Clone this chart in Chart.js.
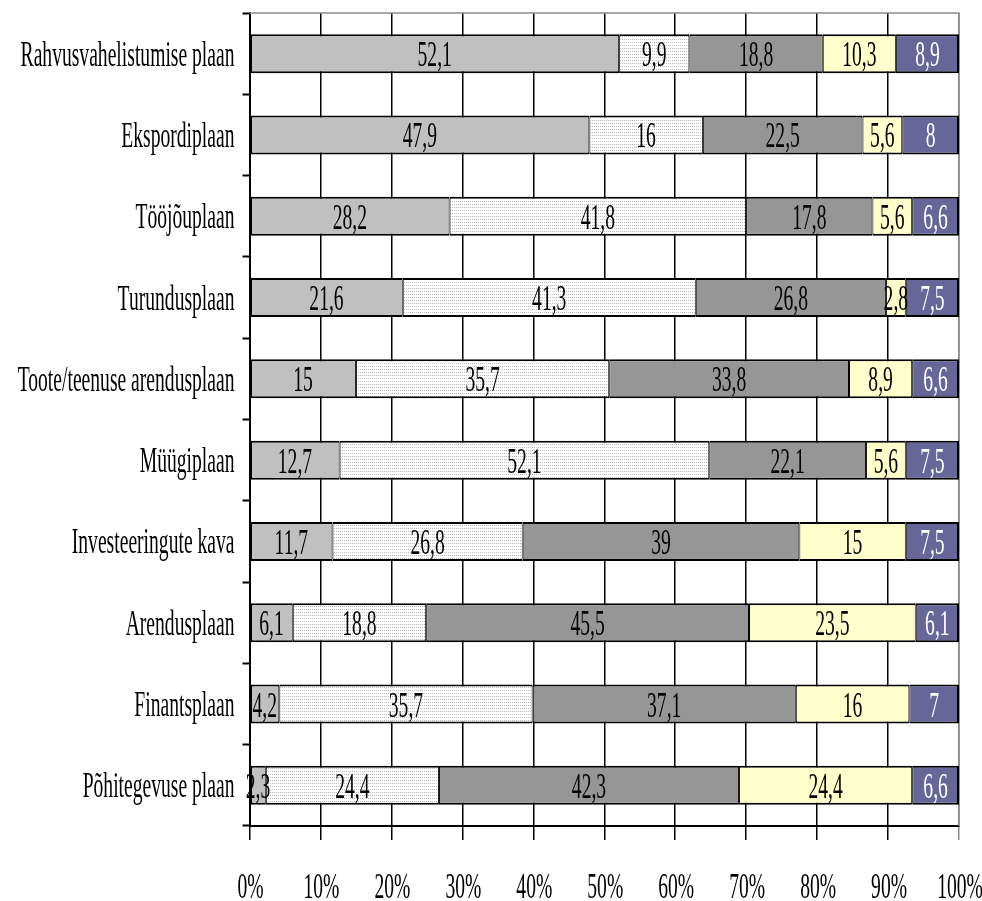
<!DOCTYPE html>
<html>
<head>
<meta charset="utf-8">
<script src="https://cdn.jsdelivr.net/npm/chart.js@4/dist/chart.umd.min.js"></script>
<style>
  html, body { margin: 0; padding: 0; background: #fff; }
  canvas { display: block; }
</style>
</head>
<body>
<canvas id="chart" width="982" height="901"></canvas>
<script>
// Plan types, top to bottom
const categories = [
  'Rahvusvahelistumise plaan',
  'Ekspordiplaan',
  'Tööjõuplaan',
  'Turundusplaan',
  'Toote/teenuse arendusplaan',
  'Müügiplaan',
  'Investeeringute kava',
  'Arendusplaan',
  'Finantsplaan',
  'Põhitegevuse plaan'
];

// Shares (%) of the five answer groups for each plan
const series1 = [52.1, 47.9, 28.2, 21.6, 15, 12.7, 11.7, 6.1, 4.2, 2.3];
const series2 = [9.9, 16, 41.8, 41.3, 35.7, 52.1, 26.8, 18.8, 35.7, 24.4];
const series3 = [18.8, 22.5, 17.8, 26.8, 33.8, 22.1, 39, 45.5, 37.1, 42.3];
const series4 = [10.3, 5.6, 5.6, 2.8, 8.9, 5.6, 15, 23.5, 16, 24.4];
const series5 = [8.9, 8, 6.6, 7.5, 6.6, 7.5, 7.5, 6.1, 7, 6.6];

const xTickValues = [0, 10, 20, 30, 40, 50, 60, 70, 80, 90, 100];
const xTickLabels = ['0%', '10%', '20%', '30%', '40%', '50%', '60%', '70%', '80%', '90%', '100%'];

// Narrow serif lettering: Times-like face squeezed horizontally
const FONT = '35px "Liberation Serif", "Times New Roman", serif';
const SQUEEZE = 0.56;

function dottedFill() {
  const c = document.createElement('canvas');
  c.width = 2; c.height = 3;
  const g = c.getContext('2d');
  g.fillStyle = '#ffffff';
  g.fillRect(0, 0, 2, 3);
  g.fillStyle = '#bdbdbd';
  g.fillRect(0, 0, 1, 1);
  return g.createPattern(c, 'repeat');
}

function narrowText(ctx, text, x, y, align) {
  ctx.save();
  ctx.translate(x, y);
  ctx.scale(SQUEEZE, 1);
  ctx.textAlign = align;
  ctx.textBaseline = 'alphabetic';
  ctx.fillText(text, 0, 0);
  ctx.restore();
}

const fmt = v => String(v).replace('.', ',');

const textPlugin = {
  id: 'narrowLabels',
  beforeDatasetsDraw(chart) {
    // grey frame on the top and right of the plot area
    const { ctx, chartArea: a } = chart;
    ctx.save();
    ctx.strokeStyle = '#8c8c8c';
    ctx.lineWidth = 1.5;
    ctx.beginPath();
    ctx.moveTo(a.left, a.top);
    ctx.lineTo(a.right, a.top);
    ctx.lineTo(a.right, a.bottom);
    ctx.stroke();
    ctx.restore();
  },
  afterDatasetsDraw(chart) {
    const ctx = chart.ctx;
    ctx.save();
    ctx.font = FONT;
    chart.data.datasets.forEach((ds, di) => {
      const meta = chart.getDatasetMeta(di);
      meta.data.forEach((bar, i) => {
        const p = bar.getCenterPoint();
        ctx.fillStyle = ds.labelColor;
        narrowText(ctx, fmt(ds.data[i]), p.x, p.y + 12.5, 'center');
      });
    });
    ctx.restore();
  },
  afterDraw(chart) {
    const ctx = chart.ctx;
    const xs = chart.scales.x, ys = chart.scales.y;
    ctx.save();
    ctx.font = FONT;
    ctx.fillStyle = '#000';
    categories.forEach((c, i) => {
      narrowText(ctx, c, xs.left - 15, ys.getPixelForValue(i) + 12, 'right');
    });
    xTickValues.forEach((v, i) => {
      narrowText(ctx, xTickLabels[i], xs.getPixelForValue(v) + 1, 898, 'center');
    });
    ctx.restore();
  }
};

const dots = dottedFill();
const lastSet = 4;
const edges = di => ({ top: 2, bottom: 2, left: di === 0 ? 2 : 1, right: di === lastSet ? 2 : 1 });
const common = di => ({ borderColor: '#000', borderWidth: edges(di), borderSkipped: false, barPercentage: 0.48, categoryPercentage: 1 });

new Chart(document.getElementById('chart'), {
  type: 'bar',
  data: {
    labels: categories,
    datasets: [
      Object.assign({ label: '1', data: series1, backgroundColor: '#c0c0c0', labelColor: '#000' }, common(0)),
      Object.assign({ label: '2', data: series2, backgroundColor: dots, labelColor: '#000' }, common(1)),
      Object.assign({ label: '3', data: series3, backgroundColor: '#969696', labelColor: '#000' }, common(2)),
      Object.assign({ label: '4', data: series4, backgroundColor: '#ffffcc', labelColor: '#000' }, common(3)),
      Object.assign({ label: '5', data: series5, backgroundColor: '#666699', labelColor: '#fff' }, common(4))
    ]
  },
  options: {
    indexAxis: 'y',
    responsive: false,
    animation: false,
    devicePixelRatio: 1,
    layout: { padding: { left: 242.5, right: 23, top: 13, bottom: 61 } },
    plugins: { legend: { display: false }, tooltip: { enabled: false } },
    scales: {
      x: {
        stacked: true,
        min: 0,
        max: 100,
        ticks: { display: false, stepSize: 10 },
        grid: {
          color: c => (c.tick && c.tick.value === 100 ? '#8c8c8c' : '#000'),
          lineWidth: 1.5,
          tickLength: 14
        },
        border: { display: true, color: '#000', width: 2 }
      },
      y: {
        stacked: true,
        offset: true,
        ticks: { display: false },
        grid: {
          offset: true,
          color: 'rgba(0,0,0,0)',
          tickColor: '#000',
          tickWidth: 2,
          tickLength: 7
        },
        border: { display: true, color: '#000', width: 2 }
      }
    }
  },
  plugins: [textPlugin]
});
</script>
</body>
</html>
